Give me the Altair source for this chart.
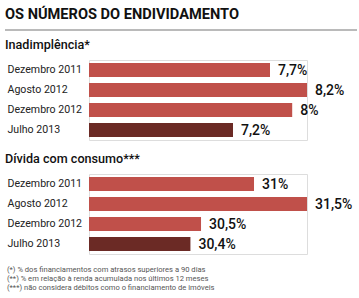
import altair as alt
import pandas as pd

# Periods shown in both panels
periods = ["Dezembro 2011", "Agosto 2012", "Dezembro 2012", "Julho 2013"]
# Household default rate (%)
inadimplencia = [7.7, 8.2, 8.0, 7.2]
inadimplencia_labels = ["7,7%", "8,2%", "8%", "7,2%"]
# Consumer debt relative to income (%)
divida = [31.0, 31.5, 30.5, 30.4]
divida_labels = ["31%", "31,5%", "30,5%", "30,4%"]
# Highlight the most recent period
highlight = [False, False, False, True]

main_title = "OS NÚMEROS DO ENDIVIDAMENTO"
footnotes = [
    "(*) % dos financiamentos com atrasos superiores a 90 dias",
    "(**) % em relação à renda acumulada nos últimos 12 meses",
    "(***) não considera débitos como o financiamento de imóveis",
]

RED = "#c0504a"
DARK = "#6b2a25"
FONT = "Roboto"
W = 218
H = 80
ONE = pd.DataFrame({"a": [0]})


def section_title(text):
    return alt.Chart(ONE).mark_text(
        align="left", baseline="alphabetic", font=FONT, fontSize=12.6,
        fontWeight=500, color="#111",
    ).encode(x=alt.value(-84), y=alt.value(-11), text=alt.value(text))


def panel(values, labels, title, domain):
    df = pd.DataFrame({"period": periods, "value": values,
                       "label": labels, "last": highlight})
    y = alt.Y("period:N", sort=periods, title=None,
              scale=alt.Scale(paddingInner=0.3, paddingOuter=0.15),
              axis=alt.Axis(domain=False, ticks=False, labelAlign="left",
                            labelPadding=82, labelFont=FONT,
                            labelFontSize=10.6, labelColor="#222"))
    x = alt.X("value:Q", title=None,
              scale=alt.Scale(domain=domain, zero=False, nice=False),
              axis=None)
    base = alt.Chart(df)
    bars = base.mark_bar(clip=True).encode(
        x=x, y=y,
        color=alt.Color("last:N", legend=None,
                        scale=alt.Scale(domain=[False, True], range=[RED, DARK])),
    )
    text = base.mark_text(align="left", dx=8, dy=1, font=FONT,
                          fontSize=14, fontWeight=500, color="#111").encode(
        x="value:Q", y=alt.Y("period:N", sort=periods), text="label:N")
    return alt.layer(bars, text, section_title(title)).properties(width=W, height=H)


top = panel(inadimplencia, inadimplencia_labels, "Inadimplência*", [5.254, 8.2])
heading = alt.Chart(ONE).mark_text(
    align="left", baseline="alphabetic", font=FONT, fontSize=14.6,
    fontWeight="bold", color="#111",
).encode(x=alt.value(-84), y=alt.value(-41.5), text=alt.value(main_title))
rule = alt.Chart(ONE).mark_rule(color="#777", strokeWidth=1.2).encode(
    x=alt.value(-84), x2=alt.value(268), y=alt.value(-30))
top = alt.layer(top, heading, rule)

bottom = panel(divida, divida_labels, "Dívida com consumo***", [29.443, 31.5])
notes = alt.Chart(ONE).mark_text(
    align="left", baseline="top", font=FONT, fontSize=7.6,
    color="#555", lineHeight=9,
).encode(x=alt.value(-82), y=alt.value(H + 12), text=alt.value(footnotes))
bottom = alt.layer(bottom, notes)

chart = alt.vconcat(top, bottom, spacing=11).properties(
    padding={"left": 3, "top": 6, "right": 0, "bottom": 0},
).configure_view(stroke=None).configure(background="white")

chart.save("out.html", embed_options={"renderer": "svg", "actions": False})
